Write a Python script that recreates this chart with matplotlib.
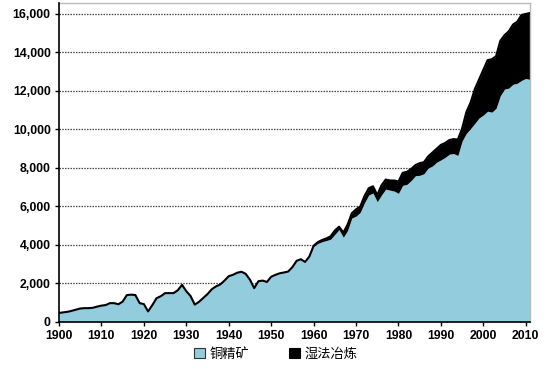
import matplotlib
matplotlib.use("Agg")
import matplotlib.pyplot as plt
import numpy as np
from matplotlib.patches import Patch
from matplotlib.ticker import FuncFormatter

years = list(range(1900, 2012))

concentrate = [
    470, 500, 530, 580, 640, 700, 720, 720, 740, 800,          # 1900-1909
    850, 880, 980, 980, 920, 1060, 1400, 1420, 1400, 980,      # 1910-1919
    930, 550, 880, 1240, 1340, 1500, 1500, 1500, 1650, 1930,   # 1920-1929
    1600, 1350, 900, 1050, 1250, 1450, 1700, 1850, 1950, 2150, # 1930-1939
    2380, 2450, 2560, 2610, 2500, 2200, 1760, 2120, 2150, 2080,# 1940-1949
    2350, 2450, 2530, 2570, 2620, 2850, 3180, 3260, 3120, 3400,# 1950-1959
    3920, 4080, 4170, 4230, 4300, 4550, 4800, 4400, 4750, 5400,# 1960-1969
    5500, 5700, 6200, 6600, 6700, 6250, 6600, 6900, 6850, 6800,# 1970-1979
    6680, 7100, 7150, 7350, 7600, 7620, 7700, 8000, 8100, 8300,# 1980-1989
    8420, 8550, 8720, 8750, 8650, 9400, 9800, 10050, 10320, 10600, # 1990-1999
    10750, 10950, 10900, 11100, 11750, 12100, 12150, 12350, 12400, 12550, # 2000-2009
    12650, 12600,                                               # 2010-2011
]

total = [
    470, 500, 530, 580, 640, 700, 720, 720, 740, 800,
    850, 880, 980, 980, 920, 1060, 1400, 1420, 1400, 980,
    930, 550, 880, 1240, 1340, 1500, 1500, 1500, 1650, 1930,
    1600, 1350, 900, 1050, 1250, 1450, 1700, 1850, 1950, 2150,
    2380, 2450, 2560, 2610, 2500, 2200, 1760, 2120, 2150, 2080,
    2350, 2450, 2530, 2570, 2620, 2850, 3180, 3260, 3120, 3400,
    3960, 4150, 4260, 4340, 4450, 4750, 4950, 4650, 5050, 5650,
    5850, 6000, 6550, 6950, 7050, 6600, 7100, 7400, 7350, 7350,
    7300, 7750, 7800, 7950, 8150, 8250, 8300, 8600, 8800, 9000,
    9200, 9300, 9450, 9500, 9480, 10050, 10900, 11400, 12100, 12600,
    13100, 13600, 13650, 13800, 14600, 14900, 15100, 15450, 15600, 15950,
    16000, 16050,
]

hydromet = [t - c for t, c in zip(total, concentrate)]

ytick_vals = [0, 2000, 4000, 6000, 8000, 10000, 12000, 14000, 16000]
xtick_vals = [1900, 1910, 1920, 1930, 1940, 1950, 1960, 1970, 1980, 1990, 2000, 2010]
legend_labels = ["铜精矿", "湿法冶炼"]

blue = "#93CDDD"

fig = plt.figure(figsize=(5.55, 3.69), dpi=100)
ax = fig.add_axes([59/555, 1 - 322/369, (530 - 59)/555, (322 - 3)/369])

y = np.array(years)
c = np.array(concentrate)
h = np.array(hydromet)
ax.fill_between(y, 0, c, color=blue, lw=0, zorder=2)
ax.fill_between(y, c, c + h, color="black", lw=0, zorder=2)
ax.plot(y, c + h, color="black", lw=1.5, zorder=3)

ax.set_xlim(1900, 2011)
ax.set_ylim(0, 16570)
ax.set_yticks(ytick_vals)
ax.set_xticks(xtick_vals)
ax.yaxis.set_major_formatter(FuncFormatter(lambda v, p: f"{int(v):,}"))

for g in ytick_vals[1:]:
    ax.axhline(g, color="#444444", lw=0.9, ls=(0, (1.2, 1.0)), zorder=1)

for s in ["top", "right"]:
    ax.spines[s].set_color("#BBBBBB")
    ax.spines[s].set_linewidth(1.0)
for s in ["left", "bottom"]:
    ax.spines[s].set_color("black")
    ax.spines[s].set_linewidth(1.2)
    ax.spines[s].set_zorder(4)

ax.tick_params(axis="both", direction="out", length=3, width=1, color="black",
               labelsize=8.8, pad=3)
for lab in ax.get_xticklabels() + ax.get_yticklabels():
    lab.set_fontweight("bold")
    lab.set_family(["Liberation Sans", "DejaVu Sans"])

handles = [Patch(facecolor=blue, edgecolor="#333333", lw=0.8),
           Patch(facecolor="black", edgecolor="black", lw=0.8)]
fig.legend(handles, legend_labels, loc="center", bbox_to_anchor=(276/555, 1 - 354/369),
           ncol=2, frameon=False, columnspacing=3.0, handlelength=0.8, handleheight=0.8,
           handletextpad=0.4, prop={"family": ["Noto Sans CJK SC", "DejaVu Sans"], "size": 9.5})

fig.savefig("out.png", dpi=100)
